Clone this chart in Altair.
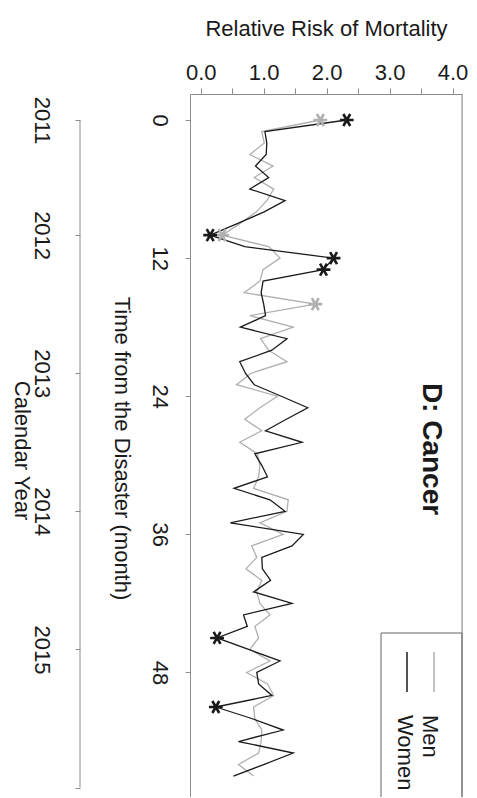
import altair as alt
import pandas as pd

# ---------------- data ----------------
months = list(range(58))
women = [2.32, 1.02, 1.05, 1.04, 0.87, 1.08, 0.78, 1.34, 1.00, 0.58,
         0.15, 0.70, 2.11, 1.95, 0.99, 0.96, 1.00, 1.03, 0.63, 1.37,
         1.13, 0.62, 0.71, 0.85, 1.28, 1.70, 1.36, 1.03, 1.61, 0.86,
         0.97, 1.06, 0.53, 1.10, 1.34, 0.47, 1.63, 1.45, 0.97, 0.98,
         1.11, 0.84, 1.45, 0.68, 0.74, 0.26, 0.76, 1.26, 0.89, 0.92,
         1.13, 0.24, 0.81, 1.31, 0.60, 1.47, 1.00, 0.52]
men = [1.90, 0.97, 1.01, 0.78, 1.15, 0.85, 1.16, 1.05, 0.88, 0.62,
       0.34, 1.08, 1.26, 0.99, 0.94, 0.69, 1.82, 0.78, 1.47, 0.95,
       1.08, 1.37, 0.80, 0.57, 1.22, 0.94, 0.70, 0.97, 0.62, 0.90,
       0.94, 0.92, 0.84, 1.39, 1.37, 0.94, 1.31, 0.81, 0.89, 0.72,
       0.97, 0.89, 0.94, 1.10, 0.86, 0.92, 0.78, 1.10, 0.73, 1.06,
       1.16, 0.84, 0.86, 0.97, 0.96, 0.92, 0.60, 0.84]
women_star_months = [0, 10, 12, 13, 45, 51]
men_star_months = [0, 10, 16]

x_ticks = [0.0, 0.5, 1.0, 1.5, 2.0, 2.5, 3.0, 3.5, 4.0]
month_ticks = [0, 12, 24, 36, 48]
year_tick_months = [0, 10, 22, 34, 46, 58]
year_labels = ["2011", "2012", "2013", "2014", "2015", ""]

X_DOMAIN = [-0.17, 4.15]
Y_DOMAIN = [-2.26, 58.82]

FONT = "Liberation Sans"
AX = "#8c8c8c"
TXT = "#1a1a1a"
MEN_C = "#b0b0b0"
WOMEN_C = "#1a1a1a"
FS = 22

W, H = 272, 703

men_df = pd.DataFrame({"month": months, "value": men})
women_df = pd.DataFrame({"month": months, "value": women})
men_star = men_df[men_df["month"].isin(men_star_months)]
women_star = women_df[women_df["month"].isin(women_star_months)]

xscale = alt.Scale(domain=X_DOMAIN, nice=False, zero=False)
yscale = alt.Scale(domain=Y_DOMAIN, nice=False, zero=False, reverse=True)

x_axis = alt.Axis(orient="top", values=x_ticks,
                  labelExpr="datum.value % 1 == 0 ? format(datum.value, '.1f') : ''",
                  tickSize=6, tickColor=AX, domainColor=AX, grid=False,
                  labelFont=FONT, labelFontSize=FS, labelColor=TXT, labelPadding=4,
                  title="Relative Risk of Mortality", titleFont=FONT, titleFontSize=FS,
                  titleFontWeight="normal", titleColor=TXT, titleX=136, titleY=-59,
                  titleBaseline="alphabetic", titleAlign="center")
y_axis = alt.Axis(orient="left", values=month_ticks, tickSize=5, tickColor=AX,
                  domainColor=AX, grid=False, labelAngle=90, labelAlign="center",
                  labelBaseline="middle", labelPadding=26, labelFont=FONT,
                  labelFontSize=FS, labelColor=TXT,
                  title="Time from the Disaster (month)", titleFont=FONT,
                  titleFontSize=FS, titleFontWeight="normal", titleColor=TXT,
                  titleAngle=90, titleAlign="center", titleBaseline="middle",
                  titleX=-69, titleY=354)

X = alt.X("value:Q", scale=xscale, axis=x_axis)
Y = alt.Y("month:Q", scale=yscale, axis=y_axis)

star_path = "M-1,0L1,0M-0.5,-0.87L0.5,0.87M-0.5,0.87L0.5,-0.87"

men_line = alt.Chart(men_df).mark_line(color=MEN_C, strokeWidth=1.3).encode(x=X, y=Y, order="month:Q")
women_line = alt.Chart(women_df).mark_line(color=WOMEN_C, strokeWidth=1.3).encode(x=X, y=Y, order="month:Q")
men_pts = alt.Chart(men_star).mark_point(shape=star_path, size=190, filled=False,
                                         color=MEN_C, strokeWidth=2.6, opacity=1).encode(x=X, y=Y)
women_pts = alt.Chart(women_star).mark_point(shape=star_path, size=190, filled=False,
                                             color=WOMEN_C, strokeWidth=2.6, opacity=1).encode(x=X, y=Y)

one = pd.DataFrame({"k": [0]})
right_border = alt.Chart(one).mark_rule(color=AX, strokeWidth=1).encode(
    x=alt.value(W), y=alt.value(0), y2=alt.value(H + 20))
legend_box = alt.Chart(one).mark_rect(fill=None, stroke="#666666", strokeWidth=1).encode(
    x=alt.value(191), x2=alt.value(W), y=alt.value(539), y2=alt.value(H + 20))
leg_men_line = alt.Chart(one).mark_rule(color=MEN_C, strokeWidth=1.5).encode(
    x=alt.value(244), y=alt.value(558), y2=alt.value(598))
leg_women_line = alt.Chart(one).mark_rule(color=WOMEN_C, strokeWidth=1.5).encode(
    x=alt.value(217), y=alt.value(558), y2=alt.value(598))
leg_men_txt = alt.Chart(one).mark_text(text="Men", angle=90, align="left", baseline="middle",
                                       font=FONT, fontSize=FS, color=TXT).encode(
    x=alt.value(240), y=alt.value(621))
leg_women_txt = alt.Chart(one).mark_text(text="Women", angle=90, align="left", baseline="middle",
                                         font=FONT, fontSize=FS, color=TXT).encode(
    x=alt.value(215), y=alt.value(621))
panel_title = alt.Chart(one).mark_text(text="D: Cancer", angle=90, align="center", baseline="middle",
                                       font=FONT, fontSize=28, fontWeight="bold", color=TXT).encode(
    x=alt.value(241), y=alt.value(355))

month_layer = alt.layer(men_line, women_line, men_pts, women_pts, right_border,
                        legend_box, leg_men_line, leg_women_line, leg_men_txt,
                        leg_women_txt, panel_title)

year_expr = " : ".join(
    f"datum.value == {m} ? '{lab}'" for m, lab in zip(year_tick_months, year_labels)) + " : ''"
cal_df = pd.DataFrame({"start": [year_tick_months[0]], "end": [year_tick_months[-1]]})
cal_axis = alt.Axis(orient="left", offset=110, values=year_tick_months,
                    labelExpr=year_expr, domain=False, tickSize=5, tickColor=AX, grid=False,
                    labelAngle=90, labelAlign="center", labelBaseline="middle",
                    labelPadding=34, labelFont=FONT, labelFontSize=FS, labelColor=TXT,
                    title="Calendar Year", titleFont=FONT, titleFontSize=FS,
                    titleFontWeight="normal", titleColor=TXT, titleAngle=90,
                    titleAlign="center", titleBaseline="alphabetic", titleX=-66, titleY=356)
cal_layer = alt.Chart(cal_df).mark_rule(color=AX, strokeWidth=1).encode(
    x=alt.value(-110),
    y=alt.Y("start:Q", scale=alt.Scale(domain=Y_DOMAIN, nice=False, zero=False, reverse=True),
            axis=cal_axis),
    y2="end:Q")

chart = alt.layer(month_layer, cal_layer).resolve_scale(y="independent").properties(
    width=W, height=H,
    autosize=alt.AutoSizeParams(type="none"),
    padding={"left": 182, "top": 86, "right": 7, "bottom": 0},
).configure_view(stroke=None).configure(background="white")

chart.save("out.html", embed_options={"renderer": "svg", "actions": False})
